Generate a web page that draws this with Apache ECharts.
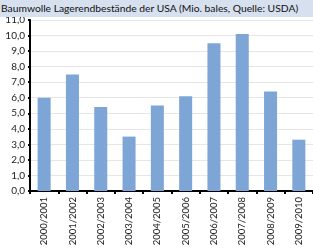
<!DOCTYPE html>
<html>
<head>
<meta charset="utf-8">
<script src="https://cdn.jsdelivr.net/npm/echarts@6/dist/echarts.min.js"></script>
<style>
html, body { margin: 0; padding: 0; background: #fff; }
#title { position: absolute; left: 0; top: 0; width: 313px; height: 17px; background: #d6e0ee;
  font-family: Lato, sans-serif; font-size: 10.3px; line-height: 17px; color: #111; padding-left: 1px; box-sizing: border-box; white-space: nowrap; }
#chart { position: absolute; left: 0; top: 0; width: 313px; height: 249px; }
</style>
</head>
<body>
<div id="chart"></div>
<div id="title">Baumwolle Lagerendbestände der USA (Mio. bales, Quelle: USDA)</div>
<script>
var categories = ['2000/2001', '2001/2002', '2002/2003', '2003/2004', '2004/2005',
                  '2005/2006', '2006/2007', '2007/2008', '2008/2009', '2009/2010'];
var stocks = [6.0, 7.5, 5.4, 3.5, 5.5, 6.1, 9.5, 10.1, 6.4, 3.3];

var myChart = echarts.init(document.getElementById('chart'));
var option = {
    animation: false,
    grid: { left: 30, right: 0, top: 20, bottom: 58, outerBoundsMode: 'none' },
    xAxis: {
        type: 'category',
        data: categories,
        axisLine: { lineStyle: { color: '#000', width: 2 } },
        axisTick: { show: true, length: 3, lineStyle: { color: '#000', width: 2 } },
        axisLabel: { rotate: 90, interval: 0, fontSize: 9.5, color: '#222', margin: 6,
            fontFamily: 'Lato' }
    },
    yAxis: {
        type: 'value',
        min: 0,
        max: 11,
        interval: 1,
        axisLine: { show: true, lineStyle: { color: '#000', width: 2 } },
        axisTick: { show: true, length: 2, lineStyle: { color: '#000', width: 2 } },
        splitLine: { lineStyle: { color: '#e6e6e6' } },
        axisLabel: { fontSize: 10, color: '#222', margin: 5, fontFamily: 'Lato',
            formatter: function (v) { return v.toFixed(1).replace('.', ','); } }
    },
    series: [{
        type: 'bar',
        data: stocks,
        barWidth: '46%',
        itemStyle: { color: '#7da6d6' }
    }]
};
myChart.setOption(option);
</script>
</body>
</html>
